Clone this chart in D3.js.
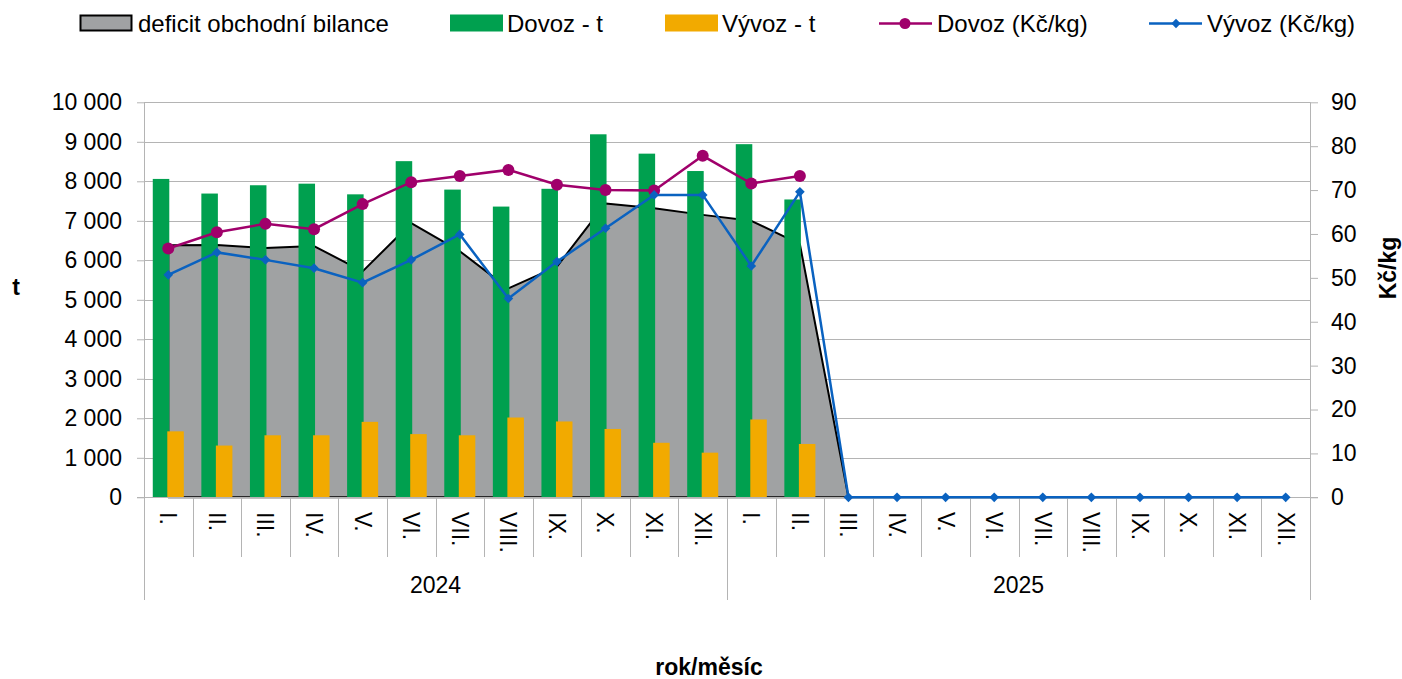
<!DOCTYPE html>
<html>
<head>
<meta charset="utf-8">
<script src="https://cdn.jsdelivr.net/npm/d3@7"></script>
<style>
  body { margin: 0; background: #fff; }
  text { font-family: Arial, 'Liberation Sans', sans-serif; fill: #000; }
</style>
</head>
<body>
<div id="chart"></div>
<script>
const months = ['I.', 'II.', 'III.', 'IV.', 'V.', 'VI.', 'VII.', 'VIII.', 'IX.', 'X.', 'XI.', 'XII.']
const years = ['2024', '2025']
const categories = years.flatMap(y => months.map(m => ({ year: y, month: m })))

// t
const deficit = [6380, 6390, 6310, 6360, 5720, 6940, 6230, 5290, 5840, 7440, 7320, 7150,
  7000, 6410, 0, 0, 0, 0, 0, 0, 0, 0, 0, 0]
const dovozT = [8060, 7690, 7900, 7940, 7670, 8510, 7790, 7360, 7810, 9190, 8700, 8260,
  8940, 7540, null, null, null, null, null, null, null, null, null, null]
const vyvozT = [1670, 1310, 1570, 1570, 1910, 1600, 1570, 2020, 1920, 1730, 1380, 1130,
  1970, 1350, null, null, null, null, null, null, null, null, null, null]

// Kč/kg
const dovozKc = [56.7, 60.4, 62.3, 61.1, 66.8, 71.8, 73.2, 74.6, 71.2, 70.0, 69.9, 77.8,
  71.5, 73.2, null, null, null, null, null, null, null, null, null, null]
const vyvozKc = [50.7, 55.8, 54.1, 52.2, 48.9, 54.1, 59.9, 45.3, 53.7, 61.3, 68.9, 68.9,
  52.7, 69.6, 0, 0, 0, 0, 0, 0, 0, 0, 0, 0]

const leftTicks = d3.range(0, 10001, 1000)
const rightTicks = d3.range(0, 91, 10)

const width = 1402
const height = 679
const plot = { left: 144, right: 1310, top: 102.3, bottom: 497.3 }

const green = '#00a04f'
const yellow = '#f2aa00'
const gray = '#a0a2a3'
const magenta = '#a0006b'
const blue = '#0a62c0'
const gridColor = '#b4b4b4'

const svg = d3
  .select('#chart')
  .append('svg')
  .attr('width', width)
  .attr('height', height)

const x = d3
  .scaleBand()
  .domain(d3.range(categories.length))
  .range([plot.left, plot.right])
const step = x.step()
const cx = i => x(i) + step / 2

const yLeft = d3.scaleLinear().domain([0, 10000]).range([plot.bottom, plot.top])
const yRight = d3.scaleLinear().domain([0, 90]).range([plot.bottom, plot.top])

const locale = d3.formatLocale({ decimal: ',', thousands: ' ', grouping: [3], currency: ['', ''] })
const fmt = locale.format(',d')

// gridlines
svg
  .append('g')
  .selectAll('line')
  .data(leftTicks)
  .enter()
  .append('line')
  .attr('x1', plot.left)
  .attr('x2', plot.right)
  .attr('y1', d => Math.round(yLeft(d)) + 0.5)
  .attr('y2', d => Math.round(yLeft(d)) + 0.5)
  .attr('stroke', gridColor)
  .attr('stroke-width', 1)

// deficit area
const area = d3
  .area()
  .x((d, i) => cx(i))
  .y0(yLeft(0))
  .y1(d => yLeft(d))

svg
  .append('path')
  .datum(deficit)
  .attr('d', area)
  .attr('fill', gray)
  .attr('stroke', '#000')
  .attr('stroke-width', 2)
  .attr('stroke-linejoin', 'round')

// bars
const barW = step * 0.34
const overlap = 2
const offset = (step - (2 * barW - overlap)) / 2

svg
  .append('g')
  .selectAll('rect')
  .data(dovozT.map((v, i) => ({ v, i })).filter(d => d.v != null))
  .enter()
  .append('rect')
  .attr('x', d => x(d.i) + offset)
  .attr('y', d => yLeft(d.v))
  .attr('width', barW)
  .attr('height', d => yLeft(0) - yLeft(d.v))
  .attr('fill', green)

svg
  .append('g')
  .selectAll('rect')
  .data(vyvozT.map((v, i) => ({ v, i })).filter(d => d.v != null))
  .enter()
  .append('rect')
  .attr('x', d => x(d.i) + offset + barW - overlap)
  .attr('y', d => yLeft(d.v))
  .attr('width', barW)
  .attr('height', d => yLeft(0) - yLeft(d.v))
  .attr('fill', yellow)

// axes
const leftAxis = svg
  .append('g')
  .attr('transform', 'translate(' + plot.left + ',0)')
  .call(d3.axisLeft(yLeft).tickValues(leftTicks).tickSize(7).tickPadding(15).tickFormat(fmt))
const rightAxis = svg
  .append('g')
  .attr('transform', 'translate(' + plot.right + ',0)')
  .call(d3.axisRight(yRight).tickValues(rightTicks).tickSize(8).tickPadding(13))

;[leftAxis, rightAxis].forEach(a => {
  a.select('.domain').remove()
  a.selectAll('line').attr('stroke', gridColor)
  a.selectAll('text').style('font-size', '23px').attr('fill', '#000')
})

// axis lines
svg
  .append('line')
  .attr('x1', plot.left + 0.5)
  .attr('x2', plot.left + 0.5)
  .attr('y1', plot.top)
  .attr('y2', 600)
  .attr('stroke', gridColor)
svg
  .append('line')
  .attr('x1', plot.right + 0.5)
  .attr('x2', plot.right + 0.5)
  .attr('y1', plot.top)
  .attr('y2', 600)
  .attr('stroke', gridColor)
svg
  .append('line')
  .attr('x1', plot.left - 7)
  .attr('x2', plot.right + 8)
  .attr('y1', Math.round(plot.bottom) + 0.5)
  .attr('y2', Math.round(plot.bottom) + 0.5)
  .attr('stroke', gridColor)

// category separators
svg
  .append('g')
  .selectAll('line')
  .data(d3.range(1, categories.length))
  .enter()
  .append('line')
  .attr('x1', i => Math.round(plot.left + i * step) + 0.5)
  .attr('x2', i => Math.round(plot.left + i * step) + 0.5)
  .attr('y1', plot.bottom)
  .attr('y2', i => (i % 12 === 0 ? 600 : 557))
  .attr('stroke', gridColor)

// month labels
svg
  .append('g')
  .selectAll('text')
  .data(categories)
  .enter()
  .append('text')
  .attr('transform', (d, i) => 'translate(' + cx(i) + ',512) rotate(90)')
  .attr('dy', '0.35em')
  .attr('text-anchor', 'start')
  .style('font-size', '23px')
  .text(d => d.month)

// year labels
svg
  .append('g')
  .selectAll('text')
  .data(years)
  .enter()
  .append('text')
  .attr('x', (d, j) => plot.left + (j * 12 + 6) * step)
  .attr('y', 593)
  .attr('text-anchor', 'middle')
  .style('font-size', '23px')
  .text(d => d)

// price lines
const line = d3
  .line()
  .defined(d => d != null)
  .x((d, i) => cx(i))
  .y(d => yRight(d))

svg
  .append('path')
  .datum(dovozKc)
  .attr('d', line)
  .attr('fill', 'none')
  .attr('stroke', magenta)
  .attr('stroke-width', 2.5)

svg
  .append('path')
  .datum(vyvozKc)
  .attr('d', line)
  .attr('fill', 'none')
  .attr('stroke', blue)
  .attr('stroke-width', 2.5)

svg
  .append('g')
  .selectAll('circle')
  .data(dovozKc.map((v, i) => ({ v, i })).filter(d => d.v != null))
  .enter()
  .append('circle')
  .attr('cx', d => cx(d.i))
  .attr('cy', d => yRight(d.v))
  .attr('r', 6)
  .attr('fill', magenta)

const diamond = d3.symbol().type(d3.symbolDiamond2).size(60)
svg
  .append('g')
  .selectAll('path')
  .data(vyvozKc.map((v, i) => ({ v, i })))
  .enter()
  .append('path')
  .attr('d', diamond)
  .attr('transform', d => 'translate(' + cx(d.i) + ',' + yRight(d.v) + ')')
  .attr('fill', blue)

// axis titles
svg
  .append('text')
  .attr('x', 16)
  .attr('y', 287)
  .attr('dy', '0.35em')
  .attr('text-anchor', 'middle')
  .style('font-size', '23px')
  .style('font-weight', 'bold')
  .text('t')

svg
  .append('text')
  .attr('transform', 'translate(1388,268) rotate(-90)')
  .attr('dy', '0.35em')
  .attr('text-anchor', 'middle')
  .style('font-size', '23px')
  .style('font-weight', 'bold')
  .text('Kč/kg')

svg
  .append('text')
  .attr('x', 709)
  .attr('y', 675)
  .attr('text-anchor', 'middle')
  .style('font-size', '23px')
  .style('font-weight', 'bold')
  .text('rok/měsíc')

// legend
const legend = svg.append('g').style('font-size', '24px')

legend
  .append('rect')
  .attr('x', 80.5)
  .attr('y', 15.5)
  .attr('width', 51)
  .attr('height', 15)
  .attr('fill', gray)
  .attr('stroke', '#000')
  .attr('stroke-width', 2)
legend.append('text').attr('x', 138).attr('y', 32).text('deficit obchodní bilance')

legend
  .append('rect')
  .attr('x', 450)
  .attr('y', 14.5)
  .attr('width', 53)
  .attr('height', 17)
  .attr('fill', green)
legend.append('text').attr('x', 507).attr('y', 32).text('Dovoz - t')

legend
  .append('rect')
  .attr('x', 665)
  .attr('y', 14.5)
  .attr('width', 53)
  .attr('height', 17)
  .attr('fill', yellow)
legend.append('text').attr('x', 722).attr('y', 32).text('Vývoz - t')

legend
  .append('line')
  .attr('x1', 879)
  .attr('x2', 932)
  .attr('y1', 23.5)
  .attr('y2', 23.5)
  .attr('stroke', magenta)
  .attr('stroke-width', 2.7)
legend.append('circle').attr('cx', 905).attr('cy', 23.5).attr('r', 5.5).attr('fill', magenta)
legend.append('text').attr('x', 937).attr('y', 32).text('Dovoz (Kč/kg)')

legend
  .append('line')
  .attr('x1', 1149)
  .attr('x2', 1202)
  .attr('y1', 23.5)
  .attr('y2', 23.5)
  .attr('stroke', blue)
  .attr('stroke-width', 2.7)
legend
  .append('path')
  .attr('d', d3.symbol().type(d3.symbolDiamond2).size(55))
  .attr('transform', 'translate(1176,23.5)')
  .attr('fill', blue)
legend.append('text').attr('x', 1207).attr('y', 32).text('Vývoz (Kč/kg)')
</script>
</body>
</html>
